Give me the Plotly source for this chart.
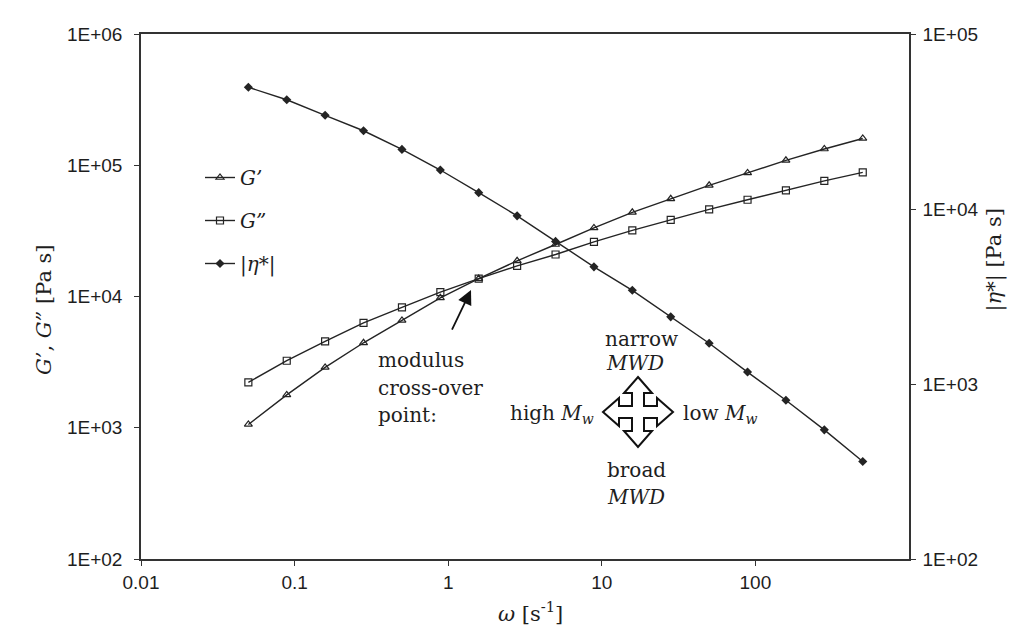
import plotly.graph_objects as go

# ---- data ----
omega = [0.05, 0.0889, 0.158, 0.281, 0.5, 0.889, 1.58, 2.81, 5.0, 8.89,
         15.8, 28.1, 50.0, 88.9, 158, 281, 500]
g_storage = [1060, 1780, 2880, 4440, 6580, 9770, 13700, 18700, 24900, 33300,
             43800, 55500, 70300, 87500, 109000, 133000, 160000]
g_loss = [2220, 3240, 4550, 6300, 8260, 10800, 13700, 17100, 20900, 26100,
          31900, 38400, 46100, 54600, 64400, 76000, 88300]
eta = [49600, 42100, 34300, 28000, 21900, 16700, 12400, 9140, 6530, 4670,
       3430, 2420, 1710, 1170, 807, 547, 361]

x_tickvals = [0.01, 0.1, 1, 10, 100]
x_ticktext = ["0.01", "0.1", "1", "10", "100"]
y_tickvals = [1e2, 1e3, 1e4, 1e5, 1e6]
y_ticktext = ["1E+02", "1E+03", "1E+04", "1E+05", "1E+06"]
y2_tickvals = [1e2, 1e3, 1e4, 1e5]
y2_ticktext = ["1E+02", "1E+03", "1E+04", "1E+05"]

# ---- layout geometry ----
W_FIG, H_FIG = 1020, 635
L, R, T, B = 133, 119, 26, 84
PW = W_FIG - L - R
PH = H_FIG - T - B


def px(x):
    return (x - L) / PW


def py(y):
    return (H_FIG - B - y) / PH


LINE = "#242424"
TXT = "#1e1e1e"
SANS = "Liberation Sans, Arial, sans-serif"
SERIF = "DejaVu Serif, serif"

fig = go.Figure()
fig.add_trace(go.Scatter(
    x=omega, y=g_storage, name="<i>G’</i>", mode="lines+markers",
    line=dict(color=LINE, width=1.4),
    marker=dict(symbol="triangle-up-open", size=7, color=LINE, line=dict(width=1.2)),
    legendgroup="a"))
fig.add_trace(go.Scatter(
    x=omega, y=g_loss, name="<i>G”</i>", mode="lines+markers",
    line=dict(color=LINE, width=1.4),
    marker=dict(symbol="square-open", size=7, color=LINE, line=dict(width=1.2)),
    legendgroup="b"))
fig.add_trace(go.Scatter(
    x=omega, y=eta, name="<i>|η*|</i>", mode="lines+markers", yaxis="y2",
    line=dict(color=LINE, width=1.4),
    marker=dict(symbol="diamond", size=7, color=LINE),
    legendgroup="c"))

axis_common = dict(
    type="log", showgrid=False, zeroline=False, showline=True,
    linecolor="#333333", linewidth=1.5, ticks="outside", ticklen=5,
    tickcolor="#333333", tickwidth=1.2,
    tickfont=dict(family=SANS, size=19, color=TXT),
)

fig.update_layout(
    width=W_FIG, height=H_FIG,
    margin=dict(l=L, r=R, t=T, b=B),
    paper_bgcolor="white", plot_bgcolor="white",
    xaxis=dict(axis_common, range=[-2, 3], mirror=True,
               tickvals=x_tickvals, ticktext=x_ticktext, ticklabelstandoff=0),
    yaxis=dict(axis_common, range=[2, 6],
               tickvals=y_tickvals, ticktext=y_ticktext, ticklabelstandoff=8),
    yaxis2=dict(axis_common, range=[2, 5], overlaying="y", side="right",
                tickvals=y2_tickvals, ticktext=y2_ticktext, ticklabelstandoff=3),
    showlegend=True,
    legend=dict(x=px(192), y=py(150), xanchor="left", yanchor="top",
                bgcolor="rgba(0,0,0,0)", tracegroupgap=14,
                font=dict(family=SERIF, size=20, color=TXT)),
)

ann = []
# axis titles
ann.append(dict(text="<i>G’</i>, <i>G”</i> [Pa s]", x=px(22), y=py(302), textangle=-90,
                font=dict(family=SERIF, size=21, color=TXT)))
ann.append(dict(text="|<i>η</i>*| [Pa s]", x=px(1000), y=py(252), textangle=-90,
                font=dict(family=SERIF, size=21, color=TXT)))
ann.append(dict(text="<i>ω</i> [s<sup>-1</sup>]", x=px(522), y=py(620),
                font=dict(family=SERIF, size=21, color=TXT)))

# text notes
notes = [
    ("modulus", 368, 352),
    ("cross-over", 368, 380),
    ("point:", 368, 407),
    ("narrow", 595, 331),
    ("<i>MWD</i>", 596, 355),
    ("high <i>M<sub>w</sub></i>", 500, 406),
    ("low <i>M<sub>w</sub></i>", 673, 406),
    ("broad", 597, 462),
    ("<i>MWD</i>", 597, 489),
]
for txt, xx, yy in notes:
    ann.append(dict(text=txt, x=px(xx), y=py(yy), xanchor="left", yanchor="middle",
                    font=dict(family=SERIF, size=20, color=TXT)))

# arrow to the cross-over point
ann.append(dict(text=" ", x=px(463), y=py(282), showarrow=True,
                ax=-22, ay=46, arrowhead=2, arrowsize=1.6, arrowwidth=1.8,
                arrowcolor="#111111"))

for a in ann:
    a.setdefault("xref", "paper")
    a.setdefault("yref", "paper")
    a.setdefault("showarrow", False)
fig.update_layout(annotations=ann)

# four-way hollow arrow
cx, cy = 630, 404
s, h, b, t = 6, 14, 19, 35
pts = [(0, -t), (h, -b), (s, -b), (s, -s), (b, -s), (b, -h), (t, 0), (b, h), (b, s),
       (s, s), (s, b), (h, b), (0, t), (-h, b), (-s, b), (-s, s), (-b, s), (-b, h),
       (-t, 0), (-b, -h), (-b, -s), (-s, -s), (-s, -b), (-h, -b)]
path = "M " + " L ".join(f"{px(cx + dx):.5f},{py(cy + dy):.5f}" for dx, dy in pts) + " Z"
fig.add_shape(type="path", path=path, xref="paper", yref="paper",
              line=dict(color="#111111", width=2), fillcolor="white")

fig.write_html("out.html")
